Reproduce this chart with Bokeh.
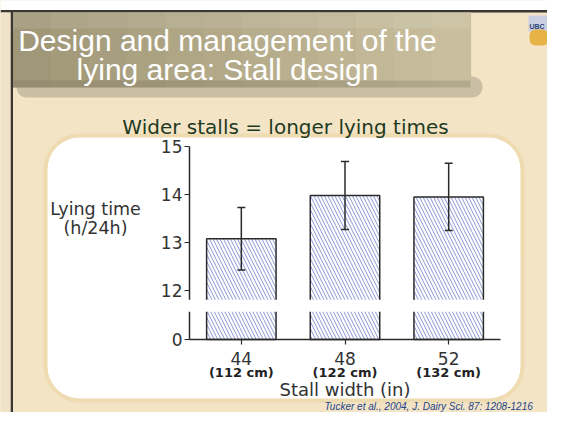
from bokeh.plotting import figure
from bokeh.models import (Range1d, FixedTicker, BoxAnnotation, Label,
                          LabelSet, Whisker, TeeHead, ColumnDataSource, LinearAxis)
from bokeh.core.properties import value
from bokeh.embed import file_html
from bokeh.resources import INLINE

# ---------------- data ----------------
stall_width_in = ["44", "48", "52"]
stall_width_cm = ["(112 cm)", "(122 cm)", "(132 cm)"]
lying_time = [13.07, 13.97, 13.94]          # h/24h
lying_sem = [0.65, 0.71, 0.70]              # error bar half-length
y_tick_values = [12, 13, 14, 15]
zero_tick_label = "0"

title_lines = ["Design and management of the", "lying area: Stall design"]
subtitle = "Wider stalls = longer lying times"
y_label_lines = ["Lying time", "(h/24h)"]
x_label = "Stall width (in)"
citation = "Tucker et al., 2004, J. Dairy Sci. 87: 1208-1216"

# ---------------- layout ----------------
W, H = 547, 412
AXIS_ZERO = 10.97           # position of the "0" below the axis break
BREAK_LO, BREAK_HI = 11.55, 11.80
PX_X = 103.67               # pixels per category
PX_Y = 48.0                 # pixels per hour
# chart frame in page pixels: left 189, right 500, axis-zero 339
x_start = -0.5 - 189 / PX_X
x_end = x_start + W / PX_X
y_start = AXIS_ZERO - (H - 339) / PX_Y
y_end = y_start + H / PX_Y

def sx(tx):
    return tx
def sy(ty):
    return H - ty

BG = "#f3e4c6"
FONT = "DejaVu Sans"

xpos = list(range(len(stall_width_in)))

p = figure(width=W, height=H, x_range=Range1d(x_start, x_end),
           y_range=Range1d(y_start, y_end), output_backend="svg",
           toolbar_location=None, x_axis_location=None, y_axis_location=None,
           min_border=0)
p.border_fill_color = BG
p.background_fill_color = BG
p.outline_line_color = None
p.grid.grid_line_color = None

def box(l, r, t, b, color, alpha=1.0, radius=0, level="underlay"):
    bx = BoxAnnotation(left=sx(l), right=sx(r), top=sy(t), bottom=sy(b),
                       left_units="screen", right_units="screen",
                       top_units="screen", bottom_units="screen",
                       fill_color=color, fill_alpha=alpha, line_alpha=0,
                       border_radius=radius, level=level)
    p.add_layout(bx)
    return bx

# slide frame
box(0, 600, -5, 9.5, "white")
box(0, 600, 9.5, 12, "#3a3733")
box(10, 12.5, 9.5, 440, "#3a3733")
box(-5, 10, 12, 440, "#efe2c8")

# title banner with shadow and gradient
box(16, 482, 76, 97, "#8d8470", 0.40, 10)
c0 = (160, 151, 120)
c1 = (201, 191, 158)
n = 12
x0, x1 = 12.5, 470
for i in range(n):
    t = i / (n - 1)
    col = "#%02x%02x%02x" % tuple(int(round(a + (b - a) * t)) for a, b in zip(c0, c1))
    l = x0 + (x1 - x0) * i / n
    r = x0 + (x1 - x0) * (i + 1) / n + 0.6
    box(l, r, 12, 87, col, 1.0, 0)
box(12.5, 470, 12, 28, "white", 0.10)
box(12.5, 470, 80, 87, "#6f6858", 0.25)

# logo
box(528, 548, 15, 31, "#c9cfe0")
box(529, 548, 29, 45, "#e7b347", 1.0, 6)
p.add_layout(Label(x=sx(529), y=sy(26), x_units="screen", y_units="screen",
                   text="UBC", text_font="Liberation Sans", text_font_style="bold",
                   text_font_size="7px", text_color="#2b3f78", text_align="left",
                   text_baseline="alphabetic"))

# white panel
box(43, 524, 133, 402, "#ead39f", 0.55, 36)
box(47, 520, 137, 398, "white", 1.0, 32)

# title texts
for txt, base in zip(title_lines, [40, 69]):
    p.add_layout(Label(x=sx(227), y=sy(base), x_units="screen", y_units="screen",
                       text=txt, text_font="Liberation Sans", text_font_size="30px",
                       text_color="white", text_align="center",
                       text_baseline="alphabetic"))
p.add_layout(Label(x=sx(285), y=sy(126), x_units="screen", y_units="screen",
                   text=subtitle, text_font=FONT, text_font_size="20px",
                   text_color="#1f3a1f", text_align="center",
                   text_baseline="alphabetic"))
p.add_layout(Label(x=sx(324), y=sy(406), x_units="screen", y_units="screen",
                   text=citation, text_font="Liberation Sans", text_font_style="italic",
                   text_font_size="10px", text_color="#23448a", text_align="left",
                   text_baseline="alphabetic"))

# y axis label
for txt, base in zip(y_label_lines, [208, 227]):
    p.add_layout(Label(x=sx(95), y=sy(base), x_units="screen", y_units="screen",
                       text=txt, text_font=FONT, text_font_size="17.5px",
                       text_color="#333333", text_align="center",
                       text_baseline="alphabetic"))

# ---------------- bars ----------------
src = ColumnDataSource(dict(
    x=xpos, top=lying_time, cm=stall_width_cm,
    lower=[m - s for m, s in zip(lying_time, lying_sem)],
    upper=[m + s for m, s in zip(lying_time, lying_sem)],
))
p.vbar(x="x", top="top", bottom=AXIS_ZERO, width=0.67, source=src,
       fill_color="white", line_color="#2a2a2a", line_width=1.5,
       hatch_pattern="\\", hatch_color="#5a66c4", hatch_scale=7, hatch_weight=0.7)

head = dict(size=8, line_width=1.5, line_color="#2a2a2a")
p.add_layout(Whisker(base="x", lower="lower", upper="upper", source=src,
                     line_width=1.5, line_color="#2a2a2a", level="annotation",
                     upper_head=TeeHead(**head), lower_head=TeeHead(**head)))

# axis break
brk = BoxAnnotation(left=sx(184), right=sx(505), left_units="screen", right_units="screen",
                    bottom=BREAK_LO, top=BREAK_HI, fill_color="white", fill_alpha=1,
                    line_alpha=0, level="overlay")
p.add_layout(brk)

# cm labels under the categories
p.add_layout(LabelSet(x="x", y=sy(376), y_units="screen", text="cm", source=src,
                      text_font=value(FONT), text_font_style="bold",
                      text_font_size="13px", text_color="#222222",
                      text_align="center", text_baseline="alphabetic"))

# ---------------- axes ----------------
ya = LinearAxis(fixed_location=-0.5, bounds=(AXIS_ZERO, 15))
ya.ticker = FixedTicker(ticks=[AXIS_ZERO] + y_tick_values)
ya.major_label_overrides = {AXIS_ZERO: zero_tick_label}
ya.minor_tick_line_color = None
ya.major_tick_out = 5
ya.major_tick_in = 0
ya.major_label_standoff = 2
ya.axis_line_width = 1.5
ya.axis_line_color = "#2a2a2a"
ya.major_tick_line_width = 1.2
ya.major_tick_line_color = "#2a2a2a"
ya.major_label_text_font = FONT
ya.major_label_text_font_size = "17px"
ya.major_label_text_color = "#333333"
p.add_layout(ya, "left")

xa = LinearAxis(fixed_location=AXIS_ZERO, bounds=(-0.5, 2.5))
xa.ticker = FixedTicker(ticks=xpos)
xa.major_label_overrides = {i: lab for i, lab in zip(xpos, stall_width_in)}
xa.minor_tick_line_color = None
xa.major_tick_out = 5
xa.major_tick_in = 0
xa.major_label_standoff = 7
xa.axis_line_width = 1.5
xa.axis_line_color = "#2a2a2a"
xa.major_tick_line_width = 1.2
xa.major_tick_line_color = "#2a2a2a"
xa.major_label_text_font = FONT
xa.major_label_text_font_size = "17px"
xa.major_label_text_color = "#333333"
xa.axis_label = x_label
xa.axis_label_text_font = FONT
xa.axis_label_text_font_size = "18px"
xa.axis_label_text_font_style = "normal"
xa.axis_label_text_color = "#333333"
xa.axis_label_standoff = 11
p.add_layout(xa, "below")

open("out.html", "w").write(file_html(p, INLINE))
